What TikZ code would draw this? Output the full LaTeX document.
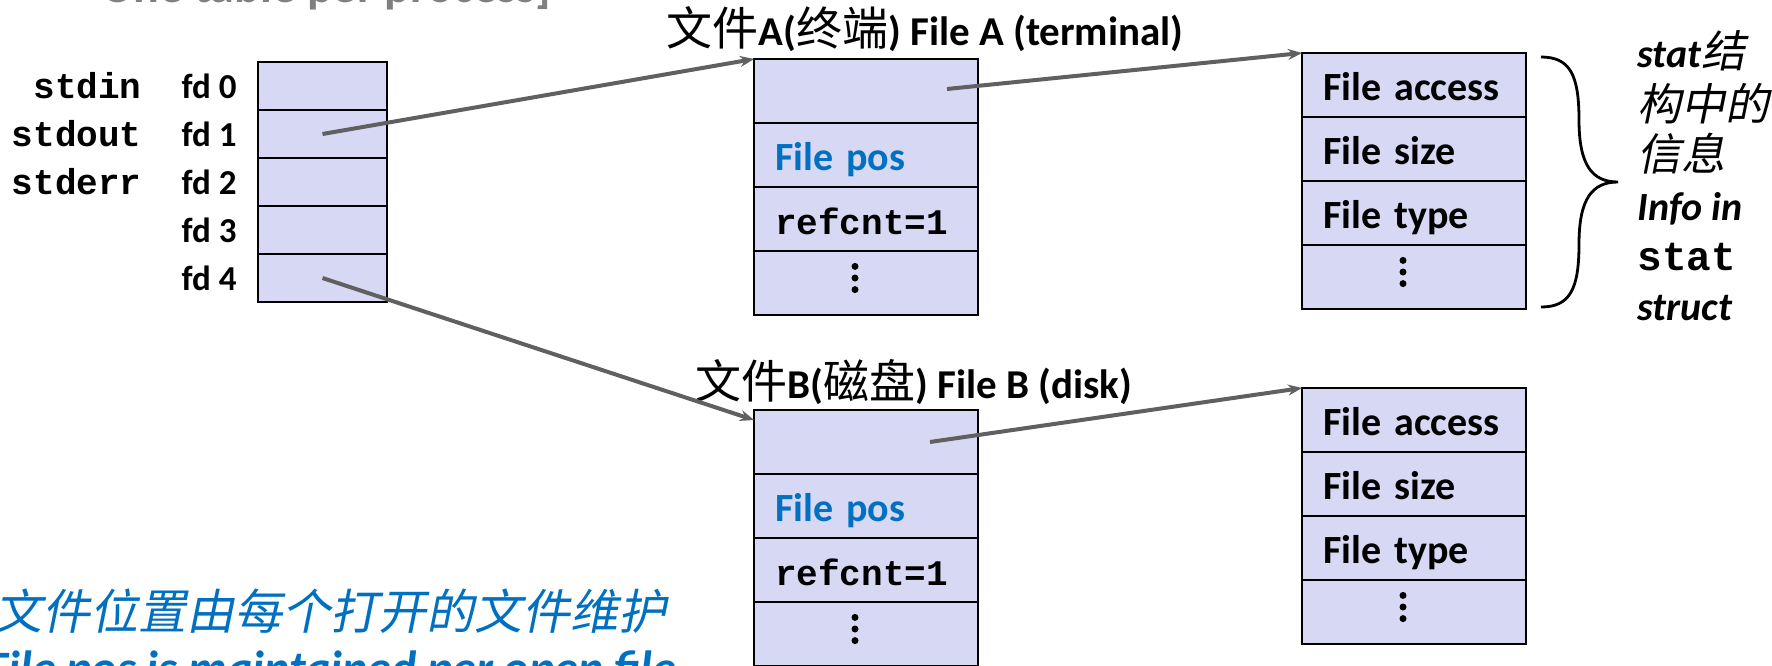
\documentclass[tikz,border=0pt]{standalone}
\usepackage{fontspec}
\setmainfont{Carlito}
\setmonofont{Liberation Mono}
\newfontfamily\cjk{Noto Sans CJK SC}
\newfontfamily\cjkit[FakeSlant=0.2]{Noto Sans CJK SC}
\usetikzlibrary{arrows.meta}
\usetikzlibrary{positioning}

\definecolor{cellfill}{RGB}{215,216,243}
\definecolor{posblue}{RGB}{0,112,192}
\definecolor{ptrgray}{RGB}{96,96,96}
\definecolor{headgray}{RGB}{128,128,128}

\newcommand\zh[1]{{\mdseries\fontsize{23pt}{24pt}\cjk #1}}
\newcommand\zhit[2]{{\mdseries\fontsize{#1}{24pt}\cjkit #2}}

\tikzstyle{cell}=[draw=black, line width=1.2pt, fill=cellfill, anchor=north west, inner sep=0pt, outer sep=0pt]
\tikzstyle{fdcell}=[cell, minimum width=64.5pt, minimum height=24pt]
\tikzstyle{filecell}=[cell, minimum height=32pt, text width=91pt, inner xsep=10.5pt, align=left, text height=16pt, text depth=1pt, font=\bfseries\fontsize{20pt}{24pt}\selectfont]
\tikzstyle{pointer}=[ptrgray, line width=2pt, -{Stealth[length=7pt,width=5.5pt]}]
\tikzstyle{fdlabel}=[inner sep=0pt, font=\bfseries\fontsize{17.5pt}{20pt}\selectfont]
\tikzstyle{stdlabel}=[inner sep=0pt, font=\ttfamily\bfseries\fontsize{18pt}{20pt}\selectfont]
\tikzstyle{flabel}=[anchor=base, inner sep=0pt, font=\bfseries\fontsize{20.5pt}{24pt}\selectfont]
\tikzstyle{note}=[anchor=base west, inner sep=0pt, font=\bfseries\fontsize{20pt}{24pt}\selectfont]

\begin{document}
\begin{tikzpicture}[x=0.5pt, y=-0.5pt]
  \useasboundingbox (0,0) rectangle (1772,665);
  \clip (0,0) rectangle (1772,665);

  \node[note, headgray, font=\bfseries\fontsize{24pt}{28pt}\selectfont] (tablehead) at (101,2) {One table per process]};

  % descriptor table
  \foreach \i in {0,...,4}
    \node[fdcell] (fd\i) at (258,{62+48*\i}) {};
  \foreach \i in {0,...,4}
    \node[fdlabel, left=10.5pt of fd\i] (fdl\i) {fd \i};
  \foreach \i/\nm in {0/stdin,1/stdout,2/stderr}
    \node[stdlabel, left=58pt of fd\i] (std\i) {\nm};

  % open file table
  \foreach \f/\top in {A/59,B/410} {
    \node[filecell] (f\f1) at (754,\top) {};
    \node[filecell, below=0pt of f\f1, text=posblue] (f\f2) {File pos};
    \node[filecell, below=0pt of f\f2] (f\f3) {\fontsize{18pt}{20pt}\ttfamily refcnt=1};
    \node[filecell, below=0pt of f\f3] (f\f4) {};
  }
  \node[flabel] (labelA) at (925,45) {\zh{文件}A(\zh{终端}) File A (terminal)};
  \node[flabel] (labelB) at (914,398) {\zh{文件}B(\zh{磁盘}) File B (disk)};

  % v-node table
  \foreach \s/\top in {A/53,B/388} {
    \node[filecell] (s\s1) at (1302,\top) {File access};
    \node[filecell, below=0pt of s\s1] (s\s2) {File size};
    \node[filecell, below=0pt of s\s2] (s\s3) {File type};
    \node[filecell, below=0pt of s\s3] (s\s4) {};
  }

  \foreach \c in {fA4,fB4,sA4,sB4}
    \foreach \d in {-1,0,1}
      \fill ([xshift=-5.5pt, yshift={2.5pt+\d*5.8pt}]\c.center) circle (1.75pt);

  \draw[pointer] (fd1.center) -- (fA1.north west);
  \draw[pointer] (fd4.center) -- ([yshift=-5pt]fB1.north west);
  \draw[pointer] ([xshift=40.5pt, yshift=1pt]fA1.center) -- (sA1.north west);
  \draw[pointer] ([xshift=32pt]fB1.center) -- (sB1.north west);

  \draw[line width=1.4pt]
    (1541,57) .. controls (1570,57) and (1579,75) .. (1579,120)
    .. controls (1579,165) and (1592,182) .. (1618,182)
    .. controls (1592,182) and (1579,199) .. (1579,244)
    .. controls (1579,289) and (1570,307) .. (1541,307);

  \foreach \n/\y/\txt in {1/67/{\textit{stat}\zhit{22pt}{结}},
      2/120/{\zhit{22pt}{构中的}}, 3/170/{\zhit{22pt}{信息}},
      4/220/{\textit{Info in}}, 5/270/{\fontsize{20.5pt}{24pt}\ttfamily stat},
      6/320/{\textit{struct}}}
    \node[note] (info\n) at (1637,\y) {\txt};

  \node[note, text=posblue] (posnote) at (-6,629) {\zhit{24pt}{文件位置由每个打开的文件维护}};
  \node[note, text=posblue, font=\bfseries\fontsize{24pt}{28pt}\selectfont] (posnoteen) at (-14,684) {\itshape File pos is maintained per open file};
\end{tikzpicture}
\end{document}
